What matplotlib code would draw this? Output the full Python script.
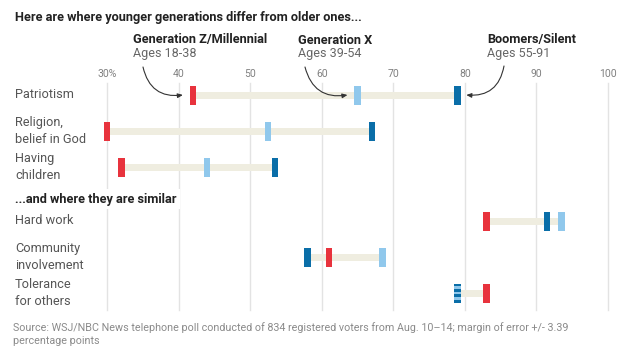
import matplotlib
matplotlib.use("Agg")
import matplotlib.pyplot as plt
from matplotlib.patches import Rectangle

plt.rcParams['font.family'] = ['Roboto', 'DejaVu Sans']

# ---- data ----
categories = ["Patriotism", "Religion,\nbelief in God", "Having\nchildren",
              "Hard work", "Community\ninvolvement", "Tolerance\nfor others"]
genz = [42, 30, 32, 83, 61, 83]
genx = [65, 52.5, 44, 93.5, 68.5, 79]
boomers = [79, 67, 53.5, 91.5, 58, 79]
ticks = [30, 40, 50, 60, 70, 80, 90, 100]
tick_labels = ["30%", "40", "50", "60", "70", "80", "90", "100"]
gen_names = ["Generation Z/Millennial", "Generation X", "Boomers/Silent"]
gen_ages = ["Ages 18-38", "Ages 39-54", "Ages 55-91"]

# ---- styling/layout ----
W, H = 640, 355
RED = "#e8333d"
LIGHT = "#90c8ec"
DARK = "#0a6ea8"
BAR = "#efede0"
GRID = "#e3e3e3"
LABEL = "#555555"
row_y = [95, 131, 167, 221, 257, 293]  # pixel rows (layout)
x0_px, x1_px = 107, 608

fig = plt.figure(figsize=(W / 100, H / 100), dpi=100)
ax = fig.add_axes([x0_px / W, 0, (x1_px - x0_px) / W, 1])
ax.set_xlim(30, 100)
ax.set_ylim(H, 0)
ax.axis("off")
ax.set_clip_on(False)

px_per_unit = (x1_px - x0_px) / 70.0
mw = 6.5 / px_per_unit   # marker width in data units
mh = 19                  # marker height px
bh = 7                   # bar height px

# gridlines
for t, lab in zip(ticks, tick_labels):
    ax.plot([t, t], [83, 310], color=GRID, lw=1, zorder=0, clip_on=False)
    ax.text(t, 74, lab, ha="center", va="center", fontsize=7.5, color="#808080")

def draw_marker(v, y, color, stripes=None):
    if stripes is None:
        ax.add_patch(Rectangle((v - mw / 2, y - mh / 2), mw, mh, facecolor=color,
                               edgecolor="none", zorder=3, clip_on=False))
    else:
        n = 7
        sh = mh / n
        for i in range(n):
            c = stripes[i % 2]
            ax.add_patch(Rectangle((v - mw / 2, y - mh / 2 + i * sh), mw, sh,
                                   facecolor=c, edgecolor="none", zorder=3,
                                   clip_on=False))

for cat, z, x, b, y in zip(categories, genz, genx, boomers, row_y):
    lo, hi = min(z, x, b), max(z, x, b)
    ax.add_patch(Rectangle((lo, y - bh / 2), hi - lo, bh, facecolor=BAR,
                           edgecolor="none", zorder=2))
    draw_marker(z, y, RED)
    if x == b:
        draw_marker(x, y, DARK, stripes=(DARK, LIGHT))
    else:
        draw_marker(x, y, LIGHT)
        draw_marker(b, y, DARK)
    fig.text(15 / W, 1 - y / H, cat, ha="left", va="center", fontsize=9.2,
             color=LABEL, linespacing=1.35)

# titles
fig.text(15 / W, 1 - 17 / H, "Here are where younger generations differ from older ones...",
         ha="left", va="center", fontsize=9.2, fontweight="bold", color="#222222")
fig.text(15 / W, 1 - 199 / H, "...and where they are similar", ha="left", va="center",
         fontsize=9.2, fontweight="bold", color="#222222",
         bbox=dict(facecolor="white", edgecolor="none", pad=2.5), zorder=5)

# generation labels
gen_x = [133, 298, 487]
for name, age, gx in zip(gen_names, gen_ages, gen_x):
    fig.text(gx / W, 1 - 40 / H, name, ha="left", va="center", fontsize=9.2,
             fontweight="bold", color="#222222")
    fig.text(gx / W, 1 - 53 / H, age, ha="left", va="center", fontsize=9,
             color="#666666")

# arrows
arrow_props = dict(arrowstyle="-|>,head_length=0.3,head_width=0.13", color="#333333",
                   lw=0.8, shrinkA=0, shrinkB=0)
ax.annotate("", xy=(genz[0] - 1.4, row_y[0]), xytext=(143, H - 67),
            textcoords="figure pixels",
            arrowprops=dict(connectionstyle="arc3,rad=0.45", **arrow_props))
ax.annotate("", xy=(genx[0] - 1.4, row_y[0]), xytext=(305, H - 67),
            textcoords="figure pixels",
            arrowprops=dict(connectionstyle="arc3,rad=0.45", **arrow_props))
ax.annotate("", xy=(boomers[0] + 1.2, row_y[0]), xytext=(504, H - 66),
            textcoords="figure pixels",
            arrowprops=dict(connectionstyle="arc3,rad=-0.45", **arrow_props))

# source
fig.text(13 / W, 1 - 328 / H,
         "Source: WSJ/NBC News telephone poll conducted of 834 registered voters from Aug. 10\u201314; margin of error +/- 3.39",
         ha="left", va="center", fontsize=7.75, color="#8a8a8a")
fig.text(13 / W, 1 - 341 / H, "percentage points", ha="left", va="center",
         fontsize=7.75, color="#8a8a8a")

fig.savefig("out.png", dpi=100)
